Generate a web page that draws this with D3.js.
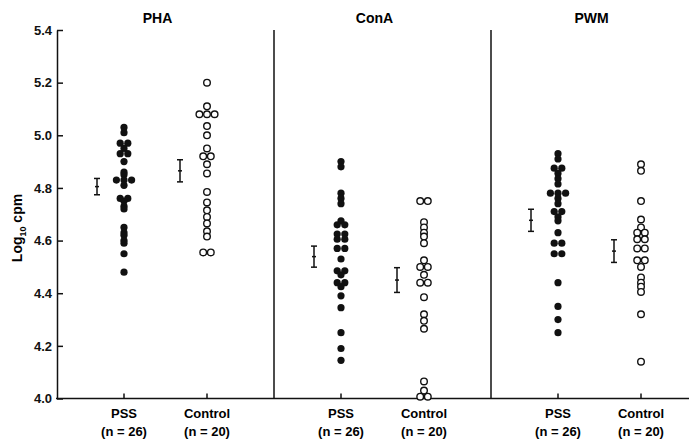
<!DOCTYPE html>
<html>
<head>
<meta charset="utf-8">
<style>
    body {
        margin: 0;
        background: #fff;
    }
    svg {
        background: #fff;
        font-family: "Liberation Sans", Arial, Helvetica, sans-serif;
        font-weight: bold;
    }
    .axis path, .axis line, .frame line {
        stroke: #111;
        stroke-width: 1.5;
        fill: none;
    }
    .axis text {
        font-size: 13px;
        font-weight: bold;
        fill: #111;
    }
    .dot-filled {
        fill: #111;
    }
    .dot-open {
        fill: #fff;
        stroke: #111;
        stroke-width: 1.4;
    }
    .err line {
        stroke: #111;
        stroke-width: 1.5;
    }
</style>
</head>
<body>

<script src="https://d3js.org/d3.v7.min.js"></script>

<script>

    // categories
    var panels = ["PHA", "ConA", "PWM"];
    var groups = ["PSS", "Control"];
    var groupNs = ["(n = 26)", "(n = 20)"];
    var yTicks = [4.0, 4.2, 4.4, 4.6, 4.8, 5.0, 5.2, 5.4];

    // individual log10 cpm values
    var phaPSS = [5.03, 5.01, 4.97, 4.97, 4.95, 4.93, 4.93, 4.90, 4.86, 4.85, 4.83, 4.83, 4.83,
        4.81, 4.76, 4.76, 4.75, 4.73, 4.72, 4.65, 4.63, 4.62, 4.60, 4.59, 4.55, 4.48];
    var phaControl = [5.20, 5.11, 5.08, 5.08, 5.08, 5.035, 5.00, 4.95, 4.92, 4.92, 4.89, 4.855,
        4.785, 4.745, 4.715, 4.69, 4.665, 4.635, 4.615, 4.555, 4.555];
    var conaPSS = [4.90, 4.88, 4.78, 4.76, 4.74, 4.675, 4.66, 4.66, 4.625, 4.625, 4.605, 4.605,
        4.57, 4.57, 4.53, 4.485, 4.485, 4.47, 4.44, 4.44, 4.425, 4.39, 4.345, 4.25, 4.19, 4.145];
    var conaControl = [4.75, 4.75, 4.67, 4.65, 4.63, 4.615, 4.59, 4.525, 4.50, 4.50, 4.47,
        4.44, 4.44, 4.385, 4.32, 4.295, 4.265, 4.065, 4.03, 4.007, 4.007];
    var pwmPSS = [4.93, 4.91, 4.875, 4.875, 4.855, 4.835, 4.815, 4.78, 4.78, 4.78, 4.76, 4.74,
        4.71, 4.71, 4.69, 4.675, 4.63, 4.59, 4.59, 4.55, 4.55, 4.44, 4.35, 4.30, 4.25];
    var pwmControl = [4.89, 4.865, 4.75, 4.68, 4.65, 4.63, 4.63, 4.605, 4.605, 4.57, 4.57,
        4.525, 4.525, 4.50, 4.46, 4.44, 4.425, 4.405, 4.32, 4.14];

    // group means and standard errors (PSS, Control per panel)
    var meansPSS = [4.805, 4.539, 4.677];
    var meansControl = [4.865, 4.450, 4.560];
    var semPSS = [0.031, 0.040, 0.042];
    var semControl = [0.042, 0.047, 0.043];

    var values = [
        [phaPSS, phaControl],
        [conaPSS, conaControl],
        [pwmPSS, pwmControl]
    ];

    var width = 689,
        height = 440;

    var svg = d3.select("body").append("svg")
        .attr("width", width)
        .attr("height", height);

    var y = d3.scaleLinear()
        .domain([4.0, 5.4])
        .range([398.5, 30]);

    var xPanel = d3.scaleBand()
        .domain(panels)
        .range([57, 708]);

    var xGroup = d3.scalePoint()
        .domain(groups)
        .range([67, 150]);

    function colX(p, g) {
        return xPanel(p) + xGroup(g);
    }

    // y axis
    svg.append("g")
        .attr("class", "axis")
        .attr("transform", "translate(57,0)")
        .call(d3.axisLeft(y)
            .tickValues(yTicks)
            .tickFormat(d3.format(".1f"))
            .tickSizeInner(-6)
            .tickSizeOuter(0)
            .tickPadding(5));

    // bottom line + panel dividers
    var frame = svg.append("g").attr("class", "frame");

    frame.append("line")
        .attr("x1", 56).attr("x2", width)
        .attr("y1", y(4.0)).attr("y2", y(4.0));

    frame.selectAll(".divider")
        .data(panels.slice(1))
        .enter().append("line")
        .attr("class", "divider")
        .attr("x1", function(d) { return xPanel(d); })
        .attr("x2", function(d) { return xPanel(d); })
        .attr("y1", y(5.4))
        .attr("y2", y(4.0));

    // panel titles (sit a little left of the panel centre in the original)
    svg.selectAll(".title")
        .data(panels)
        .enter().append("text")
        .attr("class", "title")
        .attr("x", function(d) { return xPanel(d) + xPanel.bandwidth() / 2 - 8; })
        .attr("y", 23)
        .attr("text-anchor", "middle")
        .style("font-size", "14px")
        .text(function(d) { return d; });

    // y label
    var ylab = svg.append("text")
        .attr("transform", "translate(22,228) rotate(-90)")
        .attr("text-anchor", "middle")
        .style("font-size", "14px");
    ylab.append("tspan").text("Log");
    ylab.append("tspan").attr("font-size", "9px").attr("dy", 4).text("10");
    ylab.append("tspan").attr("dy", -4).text(" cpm");

    panels.forEach(function(p, pi) {
        groups.forEach(function(g, gi) {
            var cx = colX(p, g);

            // category tick and labels
            frame.append("line")
                .attr("x1", cx).attr("x2", cx)
                .attr("y1", y(4.0)).attr("y2", y(4.0) - 5);

            svg.append("text")
                .attr("x", cx).attr("y", 418)
                .attr("text-anchor", "middle")
                .style("font-size", "13px")
                .text(g);

            svg.append("text")
                .attr("x", cx).attr("y", 436)
                .attr("text-anchor", "middle")
                .style("font-size", "13px")
                .text(groupNs[gi]);

            // spread equal values side by side
            var counts = d3.rollup(values[pi][gi], function(v) { return v.length; }, function(d) { return d; });
            var seen = new Map();
            var pts = values[pi][gi].map(function(v) {
                var n = counts.get(v);
                var i = seen.get(v) || 0;
                seen.set(v, i + 1);
                return { v: v, off: (i - (n - 1) / 2) * 7.6 };
            });

            svg.append("g")
                .selectAll("circle")
                .data(pts)
                .enter().append("circle")
                .attr("class", gi == 0 ? "dot-filled" : "dot-open")
                .attr("cx", function(d) { return cx + d.off; })
                .attr("cy", function(d) { return y(d.v); })
                .attr("r", gi == 0 ? 3.6 : 3.3);

            // mean +/- SE bar
            var m = gi == 0 ? meansPSS[pi] : meansControl[pi];
            var se = gi == 0 ? semPSS[pi] : semControl[pi];
            var ex = cx - 27;
            var err = svg.append("g").attr("class", "err");
            err.append("line")
                .attr("x1", ex).attr("x2", ex)
                .attr("y1", y(m + se)).attr("y2", y(m - se));
            err.append("line")
                .attr("x1", ex - 3).attr("x2", ex + 3)
                .attr("y1", y(m + se)).attr("y2", y(m + se));
            err.append("line")
                .attr("x1", ex - 3).attr("x2", ex + 3)
                .attr("y1", y(m - se)).attr("y2", y(m - se));
            err.append("line")
                .attr("x1", ex - 2).attr("x2", ex + 2)
                .attr("y1", y(m)).attr("y2", y(m));
        });
    });

</script>
</body>
</html>
